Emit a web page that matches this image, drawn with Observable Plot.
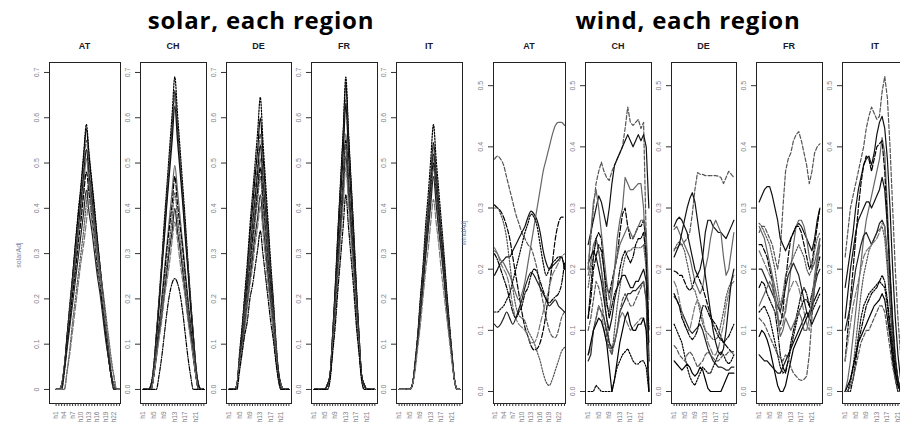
<!DOCTYPE html>
<html><head><meta charset="utf-8">
<script src="https://cdn.jsdelivr.net/npm/d3@7"></script>
<script src="https://cdn.jsdelivr.net/npm/@observablehq/plot@0.6"></script>
<style>
html,body{margin:0;padding:0;background:#fff;overflow:hidden}
#root{position:relative;width:900px;height:424px;overflow:hidden;background:#fff}
</style></head>
<body><div id="root"></div>
<script>
const regions = ["AT","CH","DE","FR","IT"];
const hourLabels = ["h1","h2","h3","h4","h5","h6","h7","h8","h9","h10","h11","h12","h13","h14","h15","h16","h17","h18","h19","h20","h21","h22","h23","h24"];
const hourNums = [1,2,3,4,5,6,7,8,9,10,11,12,13,14,15,16,17,18,19,20,21,22,23,24];
const labelsAT = [1,4,7,10,13,16,19,22];
const labelsOther = [1,5,9,13,17,21];
const solarTicks = [0,0.1,0.2,0.3,0.4,0.5,0.6,0.7];
const windTicks = [0,0.1,0.2,0.3,0.4,0.5];

const solarAT = [
 [0,0,.01,.05,.12,.19,.25,.32,.39,.45,.52,.585,.52,.46,.40,.33,.27,.21,.15,.09,.04,.01,0,0],
 [0,0,.01,.05,.12,.18,.25,.32,.38,.44,.51,.575,.51,.45,.39,.33,.27,.21,.15,.09,.03,.01,0,0],
 [0,0,.01,.05,.11,.18,.24,.30,.36,.42,.49,.55,.49,.43,.37,.31,.26,.20,.14,.08,.03,.01,0,0],
 [0,0,.01,.05,.11,.17,.23,.29,.35,.41,.47,.53,.47,.42,.36,.30,.25,.19,.14,.08,.03,.01,0,0],
 [0,0,.01,.05,.10,.16,.22,.28,.34,.39,.45,.51,.45,.40,.35,.29,.24,.18,.13,.08,.03,.01,0,0],
 [0,0,0,.04,.10,.15,.21,.26,.32,.37,.43,.48,.43,.38,.33,.27,.23,.17,.12,.07,.03,0,0,0],
 [0,0,0,0,.04,.09,.15,.20,.25,.30,.35,.41,.46,.41,.36,.31,.26,.22,.17,.12,.07,.03,0,0],
 [0,0,0,.04,.09,.14,.19,.24,.29,.34,.39,.44,.39,.35,.30,.25,.21,.16,.11,.07,.03,0,0,0],
 [0,0,0,0,.04,.08,.13,.18,.23,.28,.32,.37,.42,.37,.33,.29,.24,.20,.15,.11,.06,.03,0,0]
];
const solarCH = [
 [0,0,0,.01,.05,.12,.20,.28,.37,.45,.53,.61,.69,.61,.53,.45,.37,.28,.20,.12,.05,.01,0,0],
 [0,0,0,.01,.05,.12,.19,.27,.35,.43,.50,.58,.66,.58,.50,.43,.35,.27,.19,.12,.05,.01,0,0],
 [0,0,0,.01,.05,.12,.19,.27,.34,.42,.50,.57,.65,.57,.50,.42,.34,.27,.19,.12,.05,.01,0,0],
 [0,0,0,.01,.04,.11,.18,.26,.33,.41,.48,.55,.625,.55,.48,.41,.33,.26,.18,.11,.04,.01,0,0],
 [0,0,0,0,.03,.09,.14,.20,.26,.32,.38,.44,.495,.44,.38,.32,.26,.20,.14,.09,.03,0,0,0],
 [0,0,0,0,.03,.08,.14,.19,.25,.31,.36,.41,.47,.41,.36,.31,.25,.19,.14,.08,.03,0,0,0],
 [0,0,0,0,.03,.08,.13,.18,.23,.28,.33,.38,.435,.38,.33,.28,.23,.18,.13,.08,.03,0,0,0],
 [0,0,0,0,.03,.07,.12,.16,.21,.26,.31,.35,.40,.35,.31,.26,.21,.16,.12,.07,.03,0,0,0],
 [0,0,0,0,.03,.07,.11,.15,.20,.24,.28,.33,.37,.33,.28,.24,.20,.15,.11,.07,.03,0,0,0],
 [0,0,0,0,0,0,.03,.07,.12,.17,.21,.235,.245,.235,.21,.17,.12,.07,.03,0,0,0,0,0]
];
const solarDE = [
 [0,0,0,.01,.08,.14,.21,.28,.36,.43,.50,.57,.645,.55,.46,.37,.28,.20,.11,.04,.01,0,0,0],
 [0,0,0,.01,.07,.13,.20,.26,.34,.40,.47,.53,.60,.52,.43,.35,.26,.19,.10,.04,.01,0,0,0],
 [0,0,0,.01,.07,.12,.19,.25,.32,.38,.44,.50,.565,.49,.41,.33,.25,.18,.10,.03,.01,0,0,0],
 [0,0,0,.01,.06,.12,.18,.24,.30,.36,.42,.48,.54,.46,.39,.31,.24,.17,.09,.03,.01,0,0,0],
 [0,0,0,.01,.06,.11,.17,.22,.29,.34,.40,.45,.51,.44,.37,.30,.22,.16,.09,.03,.01,0,0,0],
 [0,0,0,.01,.06,.11,.16,.22,.27,.33,.38,.44,.49,.42,.35,.28,.22,.15,.08,.03,0,0,0,0],
 [0,0,0,.01,.06,.10,.16,.21,.26,.31,.37,.42,.47,.40,.34,.27,.21,.15,.08,.03,0,0,0,0],
 [0,0,0,.01,.05,.09,.14,.19,.24,.29,.34,.38,.43,.37,.31,.25,.19,.13,.07,.03,0,0,0,0],
 [0,0,0,.01,.05,.09,.13,.18,.23,.27,.32,.36,.405,.35,.29,.23,.18,.13,.07,.02,0,0,0,0],
 [0,0,0,0,.04,.08,.12,.15,.20,.23,.27,.31,.35,.30,.25,.20,.15,.11,.06,.02,0,0,0,0]
];
const solarFR = [
 [0,0,0,0,0,.01,.03,.12,.23,.35,.46,.57,.69,.57,.46,.35,.23,.12,.03,.01,0,0,0,0],
 [0,0,0,0,0,.01,.03,.12,.22,.34,.45,.56,.675,.56,.45,.34,.22,.12,.03,.01,0,0,0,0],
 [0,0,0,0,0,.01,.03,.12,.21,.32,.43,.53,.64,.53,.43,.32,.21,.12,.03,.01,0,0,0,0],
 [0,0,0,0,0,.01,.03,.11,.21,.32,.42,.52,.63,.52,.42,.32,.21,.11,.03,.01,0,0,0,0],
 [0,0,0,0,0,.01,.03,.10,.19,.28,.38,.47,.565,.47,.38,.28,.19,.10,.03,.01,0,0,0,0],
 [0,0,0,0,0,.01,.03,.10,.18,.28,.37,.46,.55,.46,.37,.28,.18,.10,.03,.01,0,0,0,0],
 [0,0,0,0,0,.01,.03,.10,.18,.27,.36,.45,.54,.45,.36,.27,.18,.10,.03,.01,0,0,0,0],
 [0,0,0,0,0,.01,.03,.09,.17,.26,.35,.43,.515,.43,.35,.26,.17,.09,.03,.01,0,0,0,0],
 [0,0,0,0,0,0,.02,.09,.16,.25,.33,.41,.49,.41,.33,.25,.16,.09,.02,0,0,0,0,0],
 [0,0,0,0,0,0,.02,.08,.14,.22,.29,.36,.43,.36,.29,.22,.14,.08,.02,0,0,0,0,0]
];
const solarIT = [
 [0,0,0,0,0,.01,.06,.12,.20,.27,.36,.43,.51,.585,.51,.44,.37,.30,.22,.15,.08,.02,0,0],
 [0,0,0,0,0,.01,.05,.11,.19,.26,.33,.40,.47,.545,.48,.41,.34,.28,.21,.14,.08,.02,0,0],
 [0,0,0,0,0,.01,.05,.11,.18,.25,.33,.40,.47,.535,.47,.40,.34,.27,.20,.14,.07,.02,0,0],
 [0,0,0,0,0,.01,.05,.11,.18,.24,.32,.38,.45,.52,.46,.39,.33,.27,.20,.14,.07,.02,0,0],
 [0,0,0,0,0,.01,.05,.11,.17,.24,.31,.38,.44,.51,.45,.38,.32,.26,.19,.13,.07,.02,0,0],
 [0,0,0,0,0,.01,.05,.11,.17,.24,.31,.37,.44,.50,.44,.38,.32,.26,.19,.13,.07,.02,0,0],
 [0,0,0,0,0,.01,.05,.10,.17,.23,.30,.36,.43,.49,.43,.37,.31,.25,.19,.13,.07,.02,0,0],
 [0,0,0,0,0,.01,.05,.10,.16,.22,.29,.35,.41,.47,.41,.35,.30,.24,.18,.12,.07,.02,0,0],
 [0,0,0,0,0,.01,.04,.09,.14,.20,.26,.31,.37,.42,.37,.32,.26,.21,.16,.11,.06,.02,0,0]
];

const windAT = [
 [.38,.385,.38,.37,.35,.33,.31,.29,.275,.26,.25,.24,.235,.22,.2,.17,.145,.12,.1,.09,.088,.1,.12,.13],
 [.19,.2,.21,.215,.22,.22,.23,.24,.25,.26,.27,.285,.295,.29,.28,.26,.23,.21,.2,.205,.21,.215,.22,.2],
 [.23,.225,.215,.21,.2,.19,.175,.16,.15,.16,.18,.21,.24,.27,.3,.33,.36,.38,.4,.42,.435,.44,.44,.435],
 [.305,.3,.295,.285,.27,.25,.22,.19,.16,.13,.105,.09,.075,.068,.07,.08,.1,.13,.17,.21,.25,.275,.285,.285],
 [.3,.3,.29,.275,.25,.21,.17,.14,.125,.12,.115,.1,.09,.08,.065,.05,.03,.015,.01,.02,.035,.05,.065,.072],
 [.11,.105,.11,.12,.13,.12,.11,.12,.135,.15,.17,.185,.195,.19,.18,.17,.16,.15,.14,.145,.15,.14,.135,.13],
 [.235,.225,.21,.2,.19,.17,.14,.12,.11,.105,.1,.09,.08,.08,.09,.11,.13,.15,.17,.19,.2,.21,.22,.225],
 [.225,.215,.2,.185,.17,.15,.13,.12,.13,.14,.16,.17,.19,.2,.195,.18,.165,.15,.145,.15,.155,.16,.175,.21],
 [.13,.13,.135,.14,.15,.16,.18,.2,.22,.24,.26,.275,.29,.285,.27,.24,.21,.19,.2,.21,.215,.22,.22,.2]
];
const windCH = [
 [.2,.25,.3,.34,.36,.375,.36,.35,.345,.36,.37,.38,.39,.4,.43,.465,.44,.435,.44,.445,.43,.44,.25,.05],
 [.24,.26,.28,.3,.32,.31,.29,.27,.3,.34,.37,.38,.39,.4,.41,.42,.41,.4,.41,.42,.41,.42,.4,.3],
 [.19,.21,.24,.25,.23,.2,.17,.14,.13,.16,.2,.25,.28,.3,.35,.34,.33,.33,.335,.34,.34,.3,.2,0],
 [.12,.15,.2,.22,.24,.23,.2,.17,.16,.18,.2,.22,.26,.29,.3,.27,.25,.25,.26,.27,.27,.28,.25,.05],
 [.17,.2,.22,.25,.23,.2,.16,.12,.08,.06,.1,.14,.17,.2,.22,.23,.23,.235,.235,.235,.235,.24,.2,.1],
 [.05,.06,.1,.12,.14,.13,.12,.1,.08,.07,.08,.1,.13,.14,.15,.16,.16,.165,.165,.17,.175,.18,.15,0],
 [.06,.07,.1,.12,.14,.13,.1,.08,.07,.075,.08,.1,.12,.13,.12,.11,.1,.105,.11,.115,.12,.12,.1,.02],
 [.12,.17,.22,.25,.26,.25,.2,.15,.12,.14,.16,.17,.2,.22,.23,.22,.21,.22,.24,.25,.25,.26,.22,.1],
 [0,0,0,.01,.005,0,0,0,0,0,.02,.04,.05,.06,.065,.07,.06,.05,.045,.045,.05,.05,.04,0],
 [.06,.08,.1,.11,.12,.115,.1,.08,.04,0,.02,.05,.08,.1,.12,.13,.11,.1,.1,.11,.11,.12,.1,0],
 [.1,.12,.15,.18,.17,.15,.12,.09,.07,.06,.08,.1,.13,.15,.16,.15,.14,.14,.15,.16,.17,.18,.15,.05],
 [.21,.22,.23,.22,.2,.18,.15,.12,.1,.12,.15,.17,.18,.19,.19,.18,.17,.17,.18,.18,.19,.2,.18,.08],
 [.2,.26,.31,.33,.3,.26,.22,.18,.15,.17,.2,.22,.24,.25,.26,.27,.26,.25,.26,.27,.28,.28,.26,.15]
];
const windDE = [
 [.233,.235,.24,.24,.245,.25,.26,.29,.33,.358,.355,.355,.353,.353,.353,.353,.353,.352,.35,.34,.35,.36,.355,.35],
 [.27,.28,.285,.28,.27,.26,.24,.22,.2,.19,.2,.22,.26,.28,.28,.27,.265,.26,.26,.255,.25,.26,.27,.28],
 [.265,.27,.26,.25,.24,.23,.22,.2,.18,.17,.16,.17,.2,.22,.25,.27,.28,.27,.26,.22,.19,.2,.23,.26],
 [.197,.195,.19,.19,.18,.17,.165,.17,.185,.19,.18,.17,.155,.14,.125,.115,.11,.1,.09,.08,.075,.07,.065,.065],
 [.23,.24,.245,.24,.23,.21,.19,.17,.165,.15,.13,.11,.1,.095,.09,.085,.085,.09,.11,.13,.155,.17,.18,.19],
 [.155,.15,.14,.13,.12,.11,.1,.095,.1,.105,.11,.1,.085,.07,.06,.05,.045,.04,.04,.038,.035,.035,.04,.04],
 [.18,.17,.15,.13,.11,.1,.1,.12,.14,.15,.14,.12,.1,.08,.07,.06,.06,.07,.09,.11,.14,.16,.175,.18],
 [.16,.15,.14,.12,.11,.1,.09,.085,.09,.1,.12,.14,.14,.13,.12,.11,.1,.09,.085,.08,.085,.09,.1,.11],
 [.11,.1,.09,.08,.06,.04,.025,.015,.01,.02,.03,.04,.035,.03,.03,.04,.05,.06,.065,.06,.05,.045,.05,.06],
 [.05,.045,.04,.035,.04,.045,.04,.03,.025,.03,.04,.035,.02,.005,0,0,0,0,0,.01,.02,.03,.03,.03],
 [.075,.07,.06,.055,.05,.06,.065,.06,.05,.04,.045,.05,.06,.065,.06,.055,.05,.05,.055,.06,.06,.065,.065,.06],
 [.22,.23,.24,.26,.28,.3,.315,.325,.31,.28,.25,.22,.19,.16,.13,.1,.08,.065,.06,.07,.1,.14,.18,.2]
];
const windFR = [
 [.26,.27,.27,.26,.25,.24,.22,.2,.23,.3,.36,.38,.39,.41,.42,.425,.41,.39,.37,.34,.36,.39,.4,.405],
 [.31,.32,.33,.335,.335,.32,.3,.28,.25,.24,.23,.24,.25,.26,.27,.275,.27,.26,.25,.24,.23,.25,.28,.3],
 [.27,.26,.25,.23,.21,.19,.17,.15,.13,.12,.13,.16,.2,.24,.27,.28,.28,.27,.25,.22,.2,.21,.23,.25],
 [.24,.24,.23,.22,.2,.18,.15,.12,.11,.13,.18,.22,.25,.26,.27,.27,.26,.24,.22,.2,.21,.24,.27,.3],
 [.275,.27,.26,.25,.24,.22,.2,.17,.14,.16,.19,.2,.21,.22,.23,.24,.23,.22,.2,.19,.2,.23,.25,.26],
 [.2,.2,.19,.18,.17,.16,.15,.14,.13,.15,.17,.19,.2,.21,.2,.19,.17,.15,.13,.12,.14,.17,.19,.2],
 [.23,.22,.21,.2,.19,.18,.16,.13,.1,.11,.14,.16,.17,.18,.18,.17,.15,.13,.11,.1,.13,.17,.21,.24],
 [.17,.18,.175,.16,.15,.14,.13,.1,.06,.04,.03,.05,.08,.1,.12,.14,.16,.17,.16,.14,.16,.18,.2,.22],
 [.13,.135,.14,.13,.12,.1,.08,.06,.04,.03,.035,.05,.07,.09,.11,.13,.14,.15,.15,.14,.13,.14,.15,.16],
 [.09,.1,.095,.085,.07,.05,.03,.01,0,0,.01,.03,.05,.07,.08,.09,.1,.11,.12,.13,.14,.15,.16,.17],
 [.12,.115,.11,.1,.09,.08,.07,.06,.055,.05,.06,.055,.04,.03,.025,.02,.018,.02,.025,.06,.12,.17,.21,.24],
 [.06,.055,.05,.05,.045,.04,.035,.03,.03,.04,.05,.06,.07,.08,.09,.1,.11,.12,.13,.12,.11,.12,.13,.14],
 [.14,.15,.16,.17,.18,.17,.15,.12,.09,.1,.12,.11,.1,.11,.12,.13,.12,.1,.1,.12,.15,.19,.22,.25]
];
const windIT = [
 [.22,.26,.3,.32,.34,.36,.38,.4,.43,.45,.465,.455,.445,.45,.49,.515,.48,.4,.3,.2,.12,.06,.03,.01],
 [.17,.2,.23,.26,.3,.33,.35,.37,.38,.385,.37,.39,.42,.44,.45,.43,.38,.3,.2,.12,.06,.02,0,0],
 [0,.02,.05,.09,.13,.17,.21,.25,.28,.3,.32,.34,.36,.38,.415,.39,.3,.2,.12,.06,.02,0,0,0],
 [.05,.1,.15,.2,.25,.3,.34,.37,.385,.38,.36,.38,.4,.405,.41,.36,.28,.19,.11,.05,.02,0,0,0],
 [0,0,.01,.04,.08,.12,.16,.19,.21,.23,.24,.25,.26,.265,.27,.25,.2,.14,.08,.03,.01,0,0,0],
 [.1,.12,.14,.17,.2,.22,.24,.255,.26,.25,.24,.25,.26,.275,.28,.27,.22,.15,.09,.04,.01,0,0,0],
 [.05,.08,.11,.14,.16,.18,.2,.22,.23,.235,.24,.245,.25,.26,.275,.27,.22,.16,.1,.05,.02,0,0,0],
 [0,0,0,.02,.05,.08,.1,.12,.14,.15,.16,.165,.17,.18,.19,.18,.15,.11,.07,.03,.01,0,0,0],
 [0,0,.02,.04,.06,.09,.12,.14,.15,.16,.165,.17,.175,.18,.175,.17,.14,.1,.06,.03,.01,0,0,0],
 [0,.01,.02,.04,.06,.08,.09,.1,.11,.12,.13,.14,.145,.15,.16,.15,.12,.09,.05,.02,0,0,0,0],
 [0,0,.01,.02,.04,.06,.08,.09,.1,.1,.11,.12,.13,.14,.14,.13,.1,.07,.04,.02,0,0,0,0],
 [.12,.16,.2,.23,.26,.28,.29,.3,.31,.31,.3,.31,.32,.33,.35,.33,.27,.19,.11,.05,.02,0,0,0]
];

// ---- styling (kept apart from data) ----
const styleCycle = [
  {stroke:"#000", dash:"1.5,1.5"},
  {stroke:"#000", dash:null},
  {stroke:"#555", dash:"4,2"},
  {stroke:"#111", dash:null},
  {stroke:"#666", dash:null},
  {stroke:"#000", dash:"5,2"},
  {stroke:"#555", dash:"1.5,1.5"},
  {stroke:"#222", dash:null},
  {stroke:"#777", dash:"6,2"},
  {stroke:"#000", dash:"4,1.5,1,1.5"}
];

const root = document.getElementById("root");
const SVG_TOP = 40, MT = 22, MB = 21, ML = 22, MR = 2, SVG_H = 384;

function addText(txt, x, y, css, rotate) {
  const d = document.createElement("div");
  d.textContent = txt;
  d.style.cssText = `position:absolute;left:${x}px;top:${y}px;transform:translate(-50%,-50%)${rotate ? " rotate(-90deg)" : ""};white-space:nowrap;line-height:1;${css}`;
  root.appendChild(d);
}

function panel({series, frameLeft, frameWidth, yDomain, yTicks, yFmt, xDomain, xShown, styleOffset, curve}) {
  const marks = [];
  series.forEach((vals, k) => {
    const st = styleCycle[(k + styleOffset) % styleCycle.length];
    const rows = vals.map((v, i) => ({h: hourNums[i], v}));
    marks.push(Plot.line(rows, {x: "h", y: "v", curve, stroke: st.stroke, strokeDasharray: st.dash || undefined, strokeWidth: 1.2}));
  });
  marks.push(Plot.frame({stroke: "#222", strokeWidth: 1}));
  marks.push(Plot.axisY({ticks: yTicks, tickFormat: yFmt, tickRotate: -90, tickSize: 5, tickPadding: 6,
    fontSize: 7, stroke: "#333", fill: "#808088", label: null}));
  marks.push(Plot.axisX({ticks: hourNums, tickFormat: h => xShown.includes(h) ? hourLabels[h - 1] : "",
    tickRotate: -90, tickSize: 3, tickPadding: 5, fontSize: 6.5, stroke: "#333", fill: "#808088", label: null}));
  const svg = Plot.plot({
    width: ML + frameWidth + MR, height: SVG_H,
    marginLeft: ML, marginRight: MR, marginTop: MT, marginBottom: MB,
    x: {domain: xDomain}, y: {domain: yDomain},
    style: {background: "transparent", fontFamily: "'Liberation Sans', Arial, sans-serif", overflow: "visible", maxWidth: "none"},
    marks
  });
  svg.style.position = "absolute";
  svg.style.left = (frameLeft - ML) + "px";
  svg.style.top = SVG_TOP + "px";
  root.appendChild(svg);
}

const solarData = [solarAT, solarCH, solarDE, solarFR, solarIT];
const windData = [windAT, windCH, windDE, windFR, windIT];
const solarFrames = [[49,71],[140,66],[226,65],[311,66],[396,66]];
const windFrames = [[493,72],[585,66],[671,65],[756,66],[842,66]];

const titleCss = "font-family:'Liberation Sans',Arial,sans-serif;font-weight:bold;font-size:9px;color:#1a1a2a";

regions.forEach((r, i) => {
  const [fl, fw] = solarFrames[i];
  panel({series: solarData[i], frameLeft: fl, frameWidth: fw,
    yDomain: [-0.031, 0.722], yTicks: solarTicks,
    yFmt: d => (i === 0 && d === 0) ? "0" : d.toFixed(1),
    xDomain: i === 0 ? [-1.4, 24.4] : [0, 25],
    xShown: i === 0 ? labelsAT : labelsOther, styleOffset: 0, curve: "monotone-x"});
  addText(r, fl + fw / 2, 46, titleCss);
});
regions.forEach((r, i) => {
  const [fl, fw] = windFrames[i];
  panel({series: windData[i], frameLeft: fl, frameWidth: fw,
    yDomain: [-0.0196, 0.5379], yTicks: windTicks,
    yFmt: d => d.toFixed(1),
    xDomain: i === 0 ? [0.67, 24.33] : [0, 25],
    xShown: i === 0 ? labelsAT : labelsOther, styleOffset: 2, curve: i === 0 ? "monotone-x" : "linear"});
  addText(r, fl + fw / 2, 46, titleCss);
});

const axisLabCss = "font-family:'Liberation Sans',Arial,sans-serif;font-size:7px;color:#7a84a8";
addText("solarAdj", 18, 255, axisLabCss, true);
addText("windAdj", 463, 233, axisLabCss, true);

const mainCss = "font-family:'Open Sans',sans-serif;font-weight:700;font-size:24px;letter-spacing:0.8px;color:#000";
addText("solar, each region", 261, 20, mainCss);
addText("wind, each region", 688, 20, mainCss);
</script>
</body></html>
